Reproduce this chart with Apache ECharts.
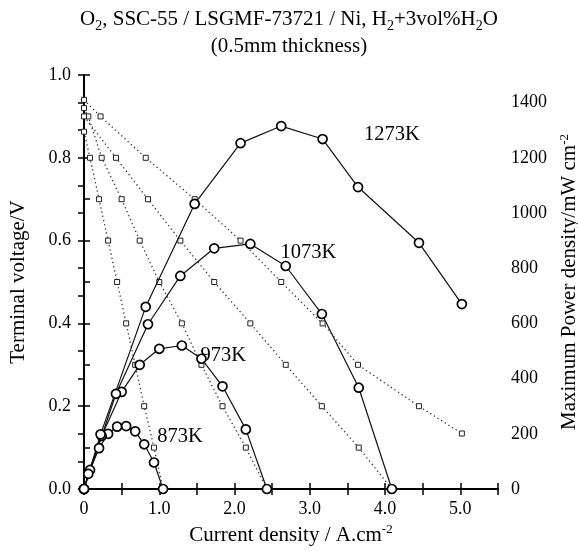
<!DOCTYPE html>
<html>
<head>
<meta charset="utf-8">
<script src="https://cdn.jsdelivr.net/npm/echarts@6/dist/echarts.min.js"></script>
<style>html,body{margin:0;padding:0;background:#fff;}#c{width:578px;height:551px;}</style>
</head>
<body>
<div id="c"></div>
<script>
// ---- data ----
const temps = ['873K', '973K', '1073K', '1273K'];

const current873 = [0, 0.08, 0.20, 0.32, 0.44, 0.56, 0.68, 0.80, 0.93, 1.05];
const voltage873 = [0.863, 0.8, 0.7, 0.6, 0.5, 0.4, 0.3, 0.2, 0.1, 0.0];
const power873   = [0, 69, 148, 200, 226, 228, 209, 162, 96, 0];

const current973 = [0, 0.057, 0.235, 0.50, 0.74, 1.00, 1.30, 1.56, 1.84, 2.15, 2.43];
const voltage973 = [0.92, 0.9, 0.8, 0.7, 0.6, 0.5, 0.4, 0.3, 0.2, 0.1, 0.0];
const power973   = [0, 55, 192, 352, 450, 508, 520, 472, 372, 216, 0];

const current1073 = [0, 0.425, 0.85, 1.28, 1.73, 2.21, 2.68, 3.16, 3.65, 4.09];
const voltage1073 = [0.90, 0.8, 0.7, 0.6, 0.5, 0.4, 0.3, 0.2, 0.1, 0.0];
const power1073   = [0, 345, 597, 772, 872, 888, 808, 634, 367, 0];

const current1273 = [0, 0.22, 0.82, 1.47, 2.08, 2.62, 3.17, 3.64, 4.45, 5.02];
const voltage1273 = [0.94, 0.9, 0.8, 0.7, 0.6, 0.5, 0.4, 0.3, 0.2, 0.134];
const power1273   = [0, 198, 660, 1033, 1253, 1315, 1268, 1094, 892, 670];

// label anchor positions (current, voltage)
const labelText = ['1273K', '1073K', '973K', '873K'];
const labelX = [4.09, 2.98, 1.85, 1.275];
const labelY = [0.857, 0.572, 0.323, 0.126];

const xTickLabels = ['0', '1.0', '2.0', '3.0', '4.0', '5.0'];

// ---- chart ----
const FONT = '"Liberation Serif", "DejaVu Serif", serif';
const pair = (xs, ys) => xs.map((x, i) => [x, ys[i]]);

const sets = [
  [current873, voltage873, power873],
  [current973, voltage973, power973],
  [current1073, voltage1073, power1073],
  [current1273, voltage1273, power1273]
];

const series = [];
sets.forEach((s, k) => {
  series.push({
    name: temps[k] + ' V', type: 'line', xAxisIndex: 0, yAxisIndex: 0,
    data: pair(s[0], s[1]), z: 2,
    symbol: 'rect', symbolSize: 5, showSymbol: true,
    lineStyle: { color: '#333', width: 1.3, type: [1.3, 3] },
    itemStyle: { color: '#fff', borderColor: '#222', borderWidth: 1 },
    animation: false
  });
});
sets.forEach((s, k) => {
  series.push({
    name: temps[k] + ' P', type: 'line', xAxisIndex: 0, yAxisIndex: 1,
    data: pair(s[0], s[2]), z: 4,
    symbol: 'circle', symbolSize: 9, showSymbol: true,
    lineStyle: { color: '#111', width: 1.2 },
    itemStyle: { color: '#fff', borderColor: '#000', borderWidth: 1.7 },
    animation: false
  });
});
series.push({
  type: 'scatter', xAxisIndex: 0, yAxisIndex: 0, z: 1, silent: true,
  symbolSize: 0, itemStyle: { opacity: 1, color: '#000' },
  data: labelText.map((t, i) => ({ value: [labelX[i], labelY[i]], name: t })),
  label: { show: true, position: 'inside', formatter: p => p.name,
           color: '#000', fontFamily: FONT, fontSize: 20.5 },
  animation: false
});

const axisLine = { show: true, lineStyle: { color: '#000', width: 2 } };
const tick = { show: true, inside: true, length: 6, lineStyle: { color: '#000', width: 1.5 } };
const supRich = {
  a: { fontFamily: FONT, fontSize: 21, lineHeight: 24, color: '#000' },
  s: { fontFamily: FONT, fontSize: 13, verticalAlign: 'top', lineHeight: 24, color: '#000' }
};

const option = {
  backgroundColor: '#fff',
  animation: false,
  title: {
    text: 'O{sub|2}, SSC-55 / LSGMF-73721 / Ni, H{sub|2}+3vol%H{sub|2}O\n(0.5mm thickness)',
    left: 'center', top: 1,
    textStyle: {
      fontFamily: FONT, fontSize: 21, fontWeight: 'normal', color: '#000', lineHeight: 27,
      rich: { sub: { fontFamily: FONT, fontSize: 14, verticalAlign: 'bottom', lineHeight: 27, color: '#000' } }
    }
  },
  grid: { left: 84, right: 80, top: 75, bottom: 62, outerBoundsMode: 'none', containLabel: false },
  xAxis: [
    {
      type: 'value', position: 'bottom', min: 0, max: 5.5, interval: 0.5,
      axisLine, axisTick: tick, splitLine: { show: false },
      axisLabel: {
        fontFamily: FONT, fontSize: 18, color: '#000', margin: 11,
        formatter: v => (Math.abs(v - Math.round(v)) < 1e-6 ? (xTickLabels[Math.round(v)] || '') : '')
      },
      name: '{a|Current density / A.cm}{s|-2}', nameLocation: 'middle', nameGap: 34,
      nameTextStyle: { fontFamily: FONT, fontSize: 21, color: '#000', rich: supRich }
    },
    {
      type: 'value', position: 'top', min: 0, max: 5.5, interval: 0.5,
      axisLine, axisTick: tick, axisLabel: { show: false }, splitLine: { show: false }
    }
  ],
  yAxis: [
    {
      type: 'value', position: 'left', min: 0, max: 1.0, interval: 0.1,
      axisLine, axisTick: tick, splitLine: { show: false },
      axisLabel: {
        fontFamily: FONT, fontSize: 18, color: '#000', margin: 13,
        formatter: v => (Math.round(v * 10) % 2 === 0 ? v.toFixed(1) : '')
      },
      name: 'Terminal voltage/V', nameLocation: 'middle', nameGap: 55,
      nameTextStyle: { fontFamily: FONT, fontSize: 21, color: '#000' }
    },
    {
      type: 'value', position: 'right', min: 0, max: 1500, interval: 100,
      axisLine, axisTick: tick, splitLine: { show: false },
      axisLabel: {
        fontFamily: FONT, fontSize: 18, color: '#000', margin: 13,
        formatter: v => (Math.round(v) % 200 === 0 ? String(Math.round(v)) : '')
      },
      name: '{a|Maximum Power density/mW cm}{s|-2}', nameLocation: 'middle', nameGap: 55,
      nameTextStyle: { fontFamily: FONT, fontSize: 21, color: '#000', rich: supRich }
    }
  ],
  series
};

const chart = echarts.init(document.getElementById('c'), null, { renderer: 'canvas' });
chart.setOption(option);
</script>
</body>
</html>
